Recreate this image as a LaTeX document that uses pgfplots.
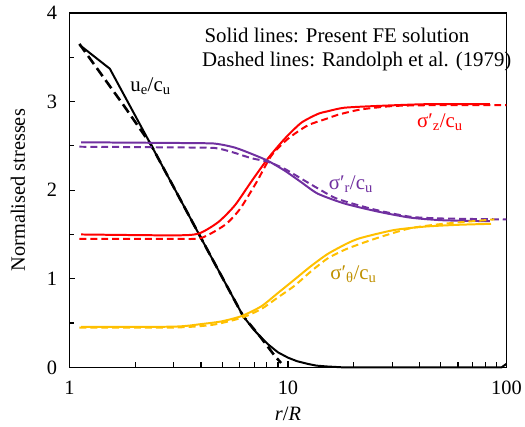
\documentclass[border=0pt]{standalone}
\usepackage{pgfplots}
\pgfplotsset{compat=1.18}
\usepackage{fontspec}
\setmainfont{Liberation Serif}
\definecolor{myred}{RGB}{255,0,0}
\definecolor{mypurple}{RGB}{112,48,160}
\definecolor{mygold}{RGB}{255,192,0}
\definecolor{mygoldtext}{RGB}{191,144,0}
\begin{document}
\begin{tikzpicture}
\begin{axis}[
 scale only axis, width=440pt, height=357pt,
 xmode=log, xmin=1, xmax=100, ymin=0, ymax=4,
 xtick={1,10,100}, xticklabels={1,10,100},
 minor xtick={2,3,4,5,6,7,8,9,20,30,40,50,60,70,80,90},
 ytick={0,1,2,3,4}, minor ytick={0.5,1.5,2.5,3.5},
 tick align=inside, xtick pos=bottom, ytick pos=left,
 major tick length=6pt, minor tick length=5pt,
 every tick/.style={black, line width=1.2pt},
 axis line style={line width=1.8pt},
 ticklabel style={font=\fontsize{20.5}{24}\selectfont},
 xticklabel style={yshift=-10pt},
 yticklabel style={xshift=-9pt},
 /pgf/number format/assume math mode=true,
 xlabel={\textit{r}/\textit{R}}, ylabel={Normalised stresses},
 label style={font=\fontsize{20.5}{24}\selectfont},
 xlabel style={at={(axis description cs:0.5,-0.132)}, anchor=center},
 ylabel style={at={(axis description cs:-0.118,0.5)}, anchor=center},
 clip=false,
 every axis plot/.append style={line width=2pt},
]
% u_e/c_u solid
\addplot[black, line width=2pt] coordinates {
(1.11,3.64) (1.53,3.37) (2.35,2.52) (3.90,1.51) (6.23,0.58) (7.0,0.42) (7.6,0.33) (8.11,0.26) (9.0,0.17) (10,0.11) (11,0.07) (12.3,0.04) (13.5,0.02) (15.2,0.01) (18,0.0) (95,0.0) (100,0.04)};
% u_e/c_u dashed
\addplot[black, line width=2.6pt, dash pattern=on 10pt off 5pt] coordinates {
(1.11,3.65) (1.778,2.95) (2.35,2.52) (3.90,1.51) (6.23,0.58) (7.5,0.34) (8.7,0.13) (9.3,0.05)};
% sigma_z solid
\addplot[myred, smooth, tension=0.4] coordinates {
(1.13,1.50) (3.0,1.49) (3.9,1.51) (4.8,1.64) (5.72,1.83) (6.81,2.10) (8.11,2.36) (9.66,2.58) (11.5,2.76) (13.7,2.86) (15.2,2.89) (18.1,2.93) (25.6,2.95) (43,2.97) (84,2.97)};
% sigma_z dashed
\addplot[myred, smooth, tension=0.4, dash pattern=on 7pt off 4pt] coordinates {
(1.11,1.45) (3.0,1.45) (4.0,1.46) (5.16,1.61) (6.04,1.79) (7.18,2.09) (8.4,2.39) (10,2.58) (12.3,2.73) (15.2,2.81) (16.9,2.85) (21.5,2.91) (30.6,2.95) (50,2.96) (100,2.96)};
% sigma_r solid
\addplot[mypurple, smooth, tension=0.4] coordinates {
(1.13,2.54) (4.0,2.53) (4.8,2.52) (5.72,2.48) (6.81,2.41) (8.11,2.33) (9.66,2.22) (11.5,2.09) (13.7,1.96) (18.1,1.85) (25.6,1.76) (36.3,1.69) (51.4,1.66) (84,1.65)};
% sigma_r dashed
\addplot[mypurple, smooth, tension=0.4, dash pattern=on 7pt off 4pt] coordinates {
(1.11,2.49) (4.0,2.48) (4.8,2.47) (5.72,2.42) (6.81,2.36) (8.11,2.32) (9.66,2.24) (11.5,2.13) (13.7,2.02) (16.9,1.90) (25,1.78) (36.3,1.70) (51.4,1.68) (100,1.67)};
% sigma_theta solid
\addplot[mygold, smooth, tension=0.4] coordinates {
(1.13,0.456) (3.0,0.46) (4.04,0.49) (4.98,0.52) (6.14,0.58) (7.56,0.69) (9.0,0.84) (10.7,0.99) (12.7,1.14) (15.2,1.28) (18.7,1.40) (21.5,1.46) (30.6,1.55) (43,1.59) (61.5,1.61) (85,1.62)};
% sigma_theta dashed
\addplot[mygold, smooth, tension=0.4, dash pattern=on 7pt off 4pt] coordinates {
(1.11,0.45) (3.0,0.45) (4.5,0.48) (6.14,0.56) (7.56,0.66) (9.0,0.79) (10.7,0.92) (12.7,1.08) (15.2,1.23) (18.7,1.34) (25.6,1.46) (36.3,1.57) (51.4,1.62) (88,1.67)};

\node[anchor=west, font=\fontsize{21}{24}\selectfont] at (axis cs:4.0,3.75) {Solid lines: Present FE solution};
\node[anchor=west, font=\fontsize{21}{24}\selectfont] at (axis cs:3.9,3.45) {Dashed lines: Randolph et al. (1979)};
\node[anchor=west, font=\fontsize{21}{24}\selectfont] at (axis cs:1.83,3.17) {u\textsubscript{e}/c\textsubscript{u}};
\node[anchor=center, font=\fontsize{21}{24}\selectfont, text=myred] at (axis cs:49.6,2.77) {σ′\textsubscript{z}/c\textsubscript{u}};
\node[anchor=center, font=\fontsize{21}{24}\selectfont, text=mypurple] at (axis cs:19.4,2.07) {σ′\textsubscript{r}/c\textsubscript{u}};
\node[anchor=center, font=\fontsize{21}{24}\selectfont, text=mygoldtext] at (axis cs:19.95,1.05) {σ′\textsubscript{θ}/c\textsubscript{u}};
\end{axis}
\useasboundingbox (current axis.south west) ++(-70pt,-60pt) rectangle ([xshift=15pt,yshift=13pt]current axis.north east);
\end{tikzpicture}
\end{document}
